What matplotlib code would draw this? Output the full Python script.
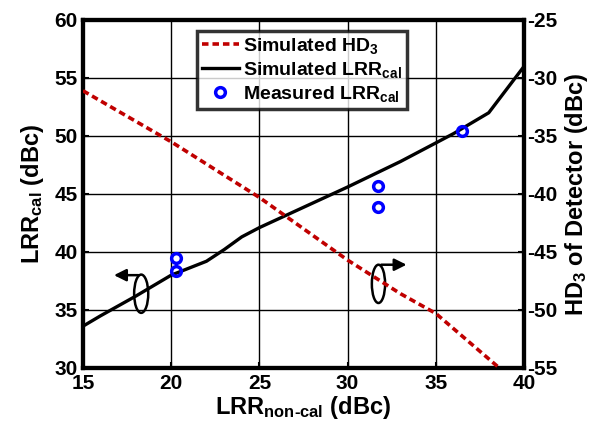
import matplotlib
matplotlib.use('Agg')
import matplotlib.pyplot as plt
import matplotlib.patches as patches
from matplotlib.lines import Line2D

plt.rcParams['font.family'] = ['Liberation Sans', 'DejaVu Sans']
plt.rcParams['font.weight'] = 'bold'
plt.rcParams['mathtext.default'] = 'regular'
plt.rcParams['axes.unicode_minus'] = False

# simulated LRR_cal (left axis)
sim_x = [15, 16, 18, 20, 22, 23, 24, 25, 27, 30, 33, 36, 38, 40]
sim_lrr = [33.6, 34.5, 36.2, 38.0, 39.2, 40.2, 41.3, 42.1, 43.5, 45.6, 47.8, 50.2, 52.0, 56.0]

# simulated HD3 (right axis)
hd3_x = [15, 20, 25, 30, 33, 35, 38.6]
hd3 = [-31.1, -35.5, -40.3, -45.7, -48.6, -50.3, -55.0]

# measured LRR_cal
meas_x = [20.3, 20.3, 31.7, 31.7, 36.5]
meas_lrr = [39.5, 38.4, 45.7, 43.9, 50.4]

xticks = [15, 20, 25, 30, 35, 40]
yticks_left = [30, 35, 40, 45, 50, 55, 60]
yticks_right = [-55, -50, -45, -40, -35, -30, -25]

red = '#C00000'
blue = '#0000FF'

fig = plt.figure(figsize=(6.03, 4.21), dpi=100)
ax1 = fig.add_axes([0.1376, 0.126, 0.7314, 0.8265])
ax2 = ax1.twinx()

# main data
ax1.plot(sim_x, sim_lrr, color='black', lw=2.4, solid_capstyle='butt', zorder=3)
ax1.plot(meas_x, meas_lrr, 'o', mfc='none', mec=blue, mew=2.5, ms=7, zorder=4)
ax2.plot(hd3_x, hd3, color=red, lw=2.6, dashes=(1.8, 1.1), zorder=3)

ax1.set_xlim(15, 40)
ax1.set_ylim(30, 60)
ax2.set_ylim(-55, -25)
ax1.set_xticks(xticks)
ax1.set_yticks(yticks_left)
ax2.set_yticks(yticks_right)

ax1.grid(True, color='black', lw=1.0)
ax1.set_axisbelow(True)

for ax in (ax1, ax2):
    for s in ax.spines.values():
        s.set_linewidth(3)
ax1.tick_params(axis='both', labelsize=15, length=4, width=1.5, direction='in', pad=4)
ax2.tick_params(axis='y', labelsize=15, length=4, width=1.5, direction='in', pad=2)

ax1.set_xlabel('LRR$_{non\u2010cal}$ (dBc)', fontsize=17, fontweight='bold', labelpad=1)
ax1.set_ylabel('LRR$_{cal}$ (dBc)', fontsize=17, fontweight='bold', labelpad=6)
ax2.set_ylabel('HD$_3$ of Detector (dBc)', fontsize=17, fontweight='bold', labelpad=4)

# ellipse + arrow annotations
e1 = patches.Ellipse((18.3, 36.4), 0.8, 3.3, fill=False, ec='black', lw=1.8, zorder=5)
ax1.add_patch(e1)
ax1.annotate('', xy=(16.6, 38.0), xytext=(18.3, 38.0),
             arrowprops=dict(arrowstyle='-|>', color='black', lw=1.8, mutation_scale=18), zorder=5)
e2 = patches.Ellipse((31.75, 37.25), 0.75, 3.3, fill=False, ec='black', lw=1.8, zorder=5)
ax1.add_patch(e2)
ax1.annotate('', xy=(33.5, 38.9), xytext=(31.75, 38.9),
             arrowprops=dict(arrowstyle='-|>', color='black', lw=1.8, mutation_scale=18), zorder=5)

handles = [
    Line2D([], [], color=red, lw=2.6, dashes=(1.8, 1.1)),
    Line2D([], [], color='black', lw=2.4),
    Line2D([], [], ls='none', marker='o', mfc='none', mec=blue, mew=2.5, ms=7),
]
labels = ['Simulated HD$_3$', 'Simulated LRR$_{cal}$', 'Measured LRR$_{cal}$']
leg = ax2.legend(handles, labels, loc='upper left', bbox_to_anchor=(0.258, 0.968),
                 fontsize=14, frameon=True, fancybox=False, edgecolor='black',
                 borderpad=0.25, labelspacing=0.2, handlelength=1.9, handletextpad=0.25,
                 borderaxespad=0)
leg.get_frame().set_linewidth(2.5)
for t in leg.get_texts():
    t.set_fontweight('bold')

fig.savefig('out.png', dpi=100)
